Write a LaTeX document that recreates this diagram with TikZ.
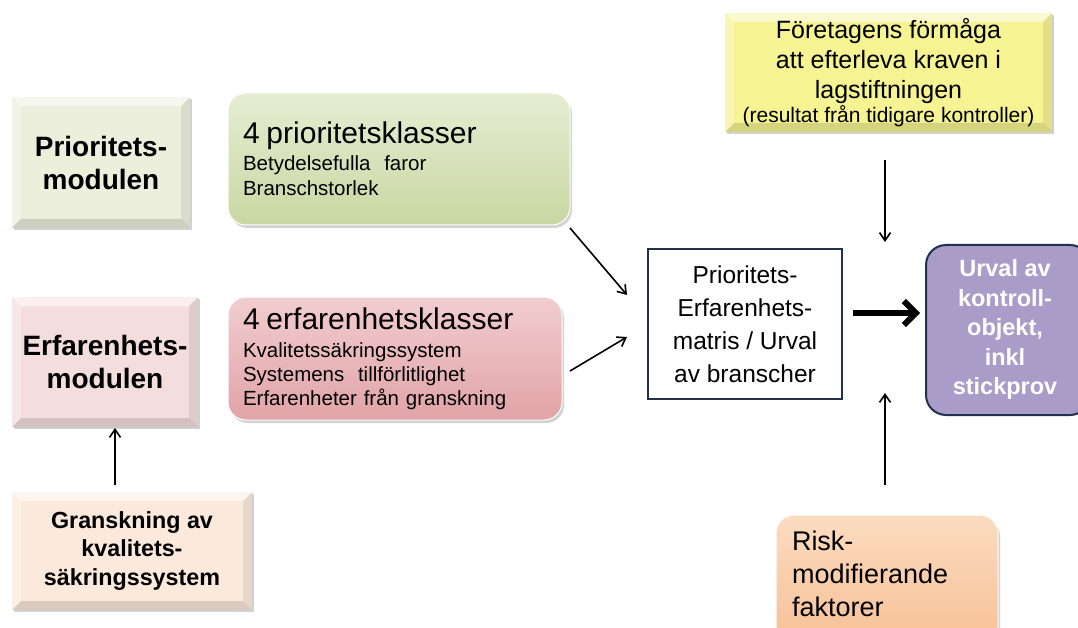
\documentclass[tikz,border=0pt]{standalone}
\usepackage{fontspec}
\setmainfont{Liberation Sans}
\usetikzlibrary{shadows,arrows.meta}
\definecolor{pmod}{HTML}{ECEFDC}
\definecolor{emod}{HTML}{F3DEDD}
\definecolor{gmod}{HTML}{FBEADB}
\definecolor{ymod}{HTML}{F6F393}
\definecolor{greenT}{HTML}{E6EDD3}
\definecolor{greenB}{HTML}{C8D7A2}
\definecolor{pinkT}{HTML}{F1CDCF}
\definecolor{pinkB}{HTML}{E1A3A7}
\definecolor{riskT}{HTML}{FCDCC0}
\definecolor{riskB}{HTML}{F6C096}
\definecolor{purp}{HTML}{A99CC9}
\definecolor{navy}{HTML}{22314F}
\tikzset{
  bevelbox/.style={fill=#1, drop shadow={opacity=0.35,shadow xshift=2pt,shadow yshift=-2pt},
    font=\bfseries\fontsize{28}{33}\selectfont, align=center, inner sep=0pt,
    path picture={
      \fill[white,opacity=0.55] (path picture bounding box.north west) -- (path picture bounding box.north east)
        -- ([xshift=-9pt,yshift=-9pt]path picture bounding box.north east) -- ([xshift=9pt,yshift=-9pt]path picture bounding box.north west) -- cycle;
      \fill[white,opacity=0.3] (path picture bounding box.north west) -- (path picture bounding box.south west)
        -- ([xshift=9pt,yshift=9pt]path picture bounding box.south west) -- ([xshift=9pt,yshift=-9pt]path picture bounding box.north west) -- cycle;
      \fill[black,opacity=0.08] (path picture bounding box.north east) -- (path picture bounding box.south east)
        -- ([xshift=-9pt,yshift=9pt]path picture bounding box.south east) -- ([xshift=-9pt,yshift=-9pt]path picture bounding box.north east) -- cycle;
      \fill[black,opacity=0.13] (path picture bounding box.south west) -- (path picture bounding box.south east)
        -- ([xshift=-9pt,yshift=9pt]path picture bounding box.south east) -- ([xshift=9pt,yshift=9pt]path picture bounding box.south west) -- cycle;
    }},
  roundbox/.style 2 args={rounded corners=18pt, top color=#1, bottom color=#2, draw=white, line width=1pt,
    drop shadow={opacity=0.35,shadow xshift=2pt,shadow yshift=-3pt},
    align=left, inner sep=0pt},
  arr/.style={-{Straight Barb[length=8pt,width=11pt]}, line width=1.6pt},
  bigarr/.style={-{Straight Barb[length=12pt,width=24pt]}, line width=6pt},
}
\begin{document}
\begin{tikzpicture}[x=1pt,y=-1pt]
\useasboundingbox[fill=white] (0,0) rectangle (1078,628);
% left column
\node[bevelbox=pmod, minimum width=178pt, minimum height=131pt] (pm) at (101,162.5) {Prioritets-\\modulen};
\node[bevelbox=emod, minimum width=186pt, minimum height=130pt] (em) at (105,362) {Erfarenhets-\\modulen};
\node[bevelbox=gmod, minimum width=240pt, minimum height=118pt, font=\bfseries\fontsize{23.3}{28.5}\selectfont] (gr) at (132,551) {Granskning av\\kvalitets-\\säkringssystem};
% middle rounded boxes
\node[roundbox={greenT}{greenB}, minimum width=342pt, minimum height=132pt, text width=312pt,
  font=\fontsize{20.5}{25}\selectfont] (pk) at (399,159)
  {{\fontsize{30}{34}\selectfont 4 prioritetsklasser}\\[2pt]Betydelsefulla\ \ faror\\Branschstorlek};
\node[roundbox={pinkT}{pinkB}, minimum width=334pt, minimum height=123pt, text width=304pt,
  font=\fontsize{20.5}{24}\selectfont] (ek) at (395,358.5)
  {{\fontsize{30}{34}\selectfont 4 erfarenhetsklasser}\\[4pt]Kvalitetssäkringssystem\\Systemens\ \ tillförlitlighet\\Erfarenheter från granskning};
% top right yellow
\node[bevelbox=ymod, minimum width=327pt, minimum height=119pt, font=\fontsize{25}{30}\selectfont] (fo) at (888.5,72.5)
  {Företagens förmåga\\att efterleva kraven i\\lagstiftningen\\[-6pt]{\fontsize{21}{24}\selectfont (resultat från tidigare kontroller)}};
% matrix
\node[draw=navy, line width=2.5pt, fill=white, minimum width=194pt, minimum height=150pt, align=center,
  font=\fontsize{24.5}{33}\selectfont, inner sep=0pt] (mx) at (745,324)
  {Prioritets-\\Erfarenhets-\\matris / Urval\\av branscher};
% urval
\node[draw=navy, line width=2pt, rounded corners=20pt, fill=purp, minimum width=164pt, minimum height=170pt,
  align=center, font=\bfseries\fontsize{23.5}{29.5}\selectfont, text=white, inner sep=0pt] (ur) at (1008,330)
  {\hspace*{-6pt}\raisebox{-4pt}{\begin{tabular}{@{}c@{}}Urval av\\kontroll-\\objekt,\\inkl\\stickprov\end{tabular}}};
% risk
\node[roundbox={riskT}{riskB}, minimum width=222pt, minimum height=130pt, text width=190pt,
  font=\fontsize{27}{33}\selectfont] (rk) at (887,580)
  {Risk-\\modifierande\\faktorer\\[-20pt]\mbox{}};
% connectors
\coordinate (a1s) at (570,228); \coordinate (a1e) at (627,295);
\coordinate (a2s) at (570,371); \coordinate (a2e) at (627,337);
\draw[arr] (a1s) -- (a1e);
\draw[arr] (a2s) -- (a2e);
\coordinate (gtop) at (115,485); \coordinate (gend) at (115,428);
\draw[arr] (gtop) -- (gend);
\coordinate (dtop) at (885,160); \coordinate (dbot) at (885,242);
\draw[arr] (dtop) -- (dbot);
\coordinate (utop) at (885,393); \coordinate (ubot) at (885,485);
\draw[arr] (ubot) -- (utop);
\coordinate (bs) at (853,313); \coordinate (be) at (920,313);
\draw[bigarr] (bs) -- (be);
\end{tikzpicture}
\end{document}
